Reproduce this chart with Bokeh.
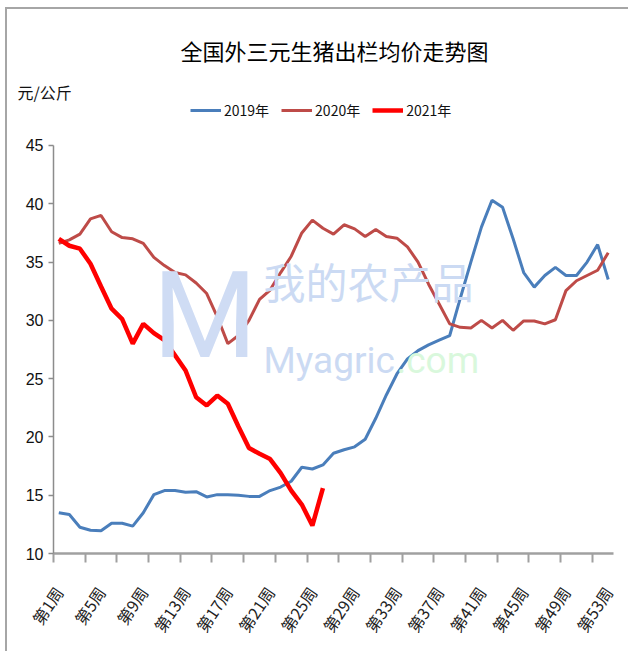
import math
from bokeh.plotting import figure
from bokeh.models import Range1d, FixedTicker, Label, ColumnDataSource, Title
from bokeh.embed import file_html
from bokeh.resources import INLINE

# ---------------- data ----------------
weeks = list(range(1, 54))
label_weeks = list(range(1, 54, 4))
week_labels = {w: f"第{w}周" for w in label_weeks}
boundary_ticks = [0.5 + 3 * i for i in range(18)]
y_ticks = [10, 15, 20, 25, 30, 35, 40, 45]

y2019 = [13.5, 13.35, 12.25, 12.0, 11.95, 12.6, 12.6, 12.35, 13.5, 15.05,
         15.4, 15.4, 15.25, 15.3, 14.85, 15.05, 15.05, 15.0, 14.9, 14.9,
         15.4, 15.7, 16.2, 17.4, 17.25, 17.6, 18.6, 18.9, 19.15, 19.8,
         21.6, 23.6, 25.4, 26.7, 27.4, 27.9, 28.3, 28.7, 31.9, 35.0,
         38.0, 40.3, 39.7, 37.0, 34.1, 32.85, 33.85, 34.55, 33.85, 33.85,
         35.0, 36.5, 33.5]
y2020 = [36.6, 36.9, 37.4, 38.7, 39.0, 37.6, 37.1, 37.0, 36.6, 35.4,
         34.7, 34.1, 33.9, 33.2, 32.3, 30.3, 28.0, 28.7, 30.0, 31.8,
         32.6, 34.1, 35.5, 37.5, 38.6, 37.9, 37.4, 38.2, 37.85, 37.2,
         37.8, 37.2, 37.05, 36.3, 35.0, 33.1, 31.4, 29.7, 29.4, 29.35,
         30.0, 29.35, 30.0, 29.15, 29.95, 29.95, 29.7, 30.05, 32.55, 33.4,
         33.85, 34.3, 35.8]
y2021 = [37.0, 36.4, 36.15, 34.85, 32.9, 31.0, 30.1, 28.0, 29.7, 28.9,
         28.3, 27.0, 25.7, 23.4, 22.7, 23.55, 22.85, 20.9, 19.05, 18.55,
         18.1, 16.9, 15.4, 14.2, 12.4, 15.6]

series_names = ["2019年", "2020年", "2021年"]
title_text = "全国外三元生猪出栏均价走势图"
unit_text = "元/公斤"
wm_cn = "我的农产品"
wm_en = "Myagric"
wm_com = ".com"
wm_logo = "M"

CJK = "Noto Sans CJK SC"
LAT = "Liberation Sans"

# ---------------- figure ----------------
p = figure(width=628, height=651, output_backend="svg", toolbar_location=None,
           x_range=Range1d(0.5, 53.5), y_range=Range1d(10, 48.86),
           min_border_left=53, min_border_right=15, min_border_top=100,
           min_border_bottom=98)
p.outline_line_color = None
p.grid.visible = False
p.background_fill_color = "white"
p.border_fill_color = None
p.styles = {"box-shadow": "inset 5px 7px 0 0 white, inset 7px 9px 0 0 #a6a6a6",
            "background-color": "white"}

# titles in the top panel (first added = closest to the frame)
unit_title = Title(text=unit_text, align="left", offset=-36, standoff=-6,
                   vertical_align="bottom", text_font=CJK, text_font_size="16px",
                   text_font_style="normal", text_color="#111111")
main_title = Title(text=title_text, align="left", offset=127, standoff=30,
                   vertical_align="bottom", text_font=CJK, text_font_size="22px",
                   text_font_style="normal", text_color="#000000")
p.add_layout(unit_title, "above")
p.add_layout(main_title, "above")

# watermark
p.add_layout(Label(x=99, y=238, x_units="screen", y_units="screen", text=wm_logo,
                   text_font="Roboto", text_font_size="120px",
                   text_color="#cfdcf4", text_baseline="middle", text_align="left"))
p.add_layout(Label(x=210, y=273, x_units="screen", y_units="screen", text=wm_cn,
                   text_font=CJK, text_font_size="42px",
                   text_color="#cbdaf3", text_baseline="middle", text_align="left"))
p.add_layout(Label(x=210, y=193, x_units="screen", y_units="screen", text=wm_en,
                   text_font="Roboto", text_font_size="37px",
                   text_color="#cbdaf3", text_baseline="middle", text_align="left"))
p.add_layout(Label(x=343, y=193, x_units="screen", y_units="screen", text=wm_com,
                   text_font="Roboto", text_font_size="37px",
                   text_color="#d9f8dc", text_baseline="middle", text_align="left"))

src19 = ColumnDataSource(dict(x=weeks, y=y2019))
src20 = ColumnDataSource(dict(x=weeks, y=y2020))
src21 = ColumnDataSource(dict(x=weeks[:len(y2021)], y=y2021))

p.line("x", "y", source=src19, line_color="#4a7ebb", line_width=3,
       legend_label=series_names[0])
p.line("x", "y", source=src20, line_color="#be4b48", line_width=3,
       legend_label=series_names[1])
p.line("x", "y", source=src21, line_color="#ff0000", line_width=4.5,
       legend_label=series_names[2])

# axes
xa = p.xaxis[0]
xa.ticker = FixedTicker(ticks=label_weeks, minor_ticks=boundary_ticks)
xa.major_label_overrides = week_labels
xa.major_tick_line_color = None
xa.major_tick_out = 0
xa.major_tick_in = 0
xa.minor_tick_line_color = "#a0a0a0"
xa.minor_tick_line_width = 2
xa.minor_tick_out = 9
xa.minor_tick_in = 0
xa.axis_line_color = "#a0a0a0"
xa.axis_line_width = 2.5
xa.major_label_orientation = math.radians(56)
xa.major_label_standoff = 26
xa.major_label_text_font = CJK
xa.major_label_text_font_size = "16px"
xa.major_label_text_color = "#222222"

ya = p.yaxis[0]
ya.ticker = FixedTicker(ticks=y_ticks)
ya.bounds = (10, 45)
ya.axis_line_color = "#8c8c8c"
ya.axis_line_width = 1.5
ya.major_tick_line_color = "#8c8c8c"
ya.major_tick_line_width = 1.5
ya.major_tick_out = 5
ya.major_tick_in = 0
ya.minor_tick_line_color = None
ya.major_label_standoff = 5
ya.major_label_text_font = LAT
ya.major_label_text_font_size = "16px"
ya.major_label_text_color = "#111111"

# legend
lg = p.legend[0]
lg.orientation = "horizontal"
lg.location = (137, 433)
lg.border_line_color = None
lg.background_fill_alpha = 0
lg.padding = 0
lg.margin = 0
lg.spacing = 12
lg.glyph_width = 31
lg.glyph_height = 16
lg.label_standoff = 3
lg.label_text_font = CJK
lg.label_text_font_size = "14px"
lg.label_text_color = "#111111"
lg.label_height = 16

open("out.html", "w").write(file_html(p, INLINE))
